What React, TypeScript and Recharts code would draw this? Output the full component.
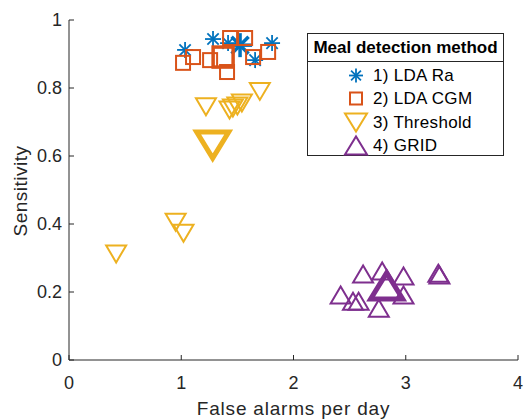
import React from 'react';
import { ScatterChart, Scatter, XAxis, YAxis, Legend } from 'recharts';

const xTicks = [0, 1, 2, 3, 4];
const yTicks = [0, 0.2, 0.4, 0.6, 0.8, 1];
const xLabel = 'False alarms per day';
const yLabel = 'Sensitivity';
const legendTitle = 'Meal detection method';
const methodNames = ['1) LDA Ra', '2) LDA CGM', '3) Threshold', '4) GRID'];

const ldaRaPoints = [
  { x: 1.034, y: 0.912 },
  { x: 1.283, y: 0.944 },
  { x: 1.417, y: 0.932 },
  { x: 1.658, y: 0.882 },
  { x: 1.809, y: 0.932 },
];
const ldaRaMean = [{ x: 1.524, y: 0.926 }];

const ldaCgmPoints = [
  { x: 1.016, y: 0.874 },
  { x: 1.105, y: 0.891 },
  { x: 1.257, y: 0.882 },
  { x: 1.435, y: 0.947 },
  { x: 1.569, y: 0.947 },
  { x: 1.408, y: 0.847 },
  { x: 1.64, y: 0.891 },
  { x: 1.774, y: 0.906 },
];
const ldaCgmMean = [{ x: 1.373, y: 0.891 }];

const thresholdPoints = [
  { x: 1.22, y: 0.745 },
  { x: 1.43, y: 0.735 },
  { x: 1.46, y: 0.741 },
  { x: 1.5, y: 0.747 },
  { x: 1.54, y: 0.756 },
  { x: 1.7, y: 0.79 },
  { x: 0.42, y: 0.312 },
  { x: 0.95, y: 0.405 },
  { x: 1.02, y: 0.373 },
];
const thresholdMean = [{ x: 1.28, y: 0.632 }];

const gridPoints = [
  { x: 2.62, y: 0.253 },
  { x: 2.79, y: 0.262 },
  { x: 2.98, y: 0.247 },
  { x: 3.29, y: 0.255 },
  { x: 3.3, y: 0.25 },
  { x: 2.98, y: 0.191 },
  { x: 2.42, y: 0.191 },
  { x: 2.53, y: 0.173 },
  { x: 2.58, y: 0.173 },
  { x: 2.76, y: 0.152 },
];
const gridMean = [{ x: 2.83, y: 0.218 }];

const BLUE = '#0072BD';
const ORANGE = '#D95319';
const YELLOW = '#EDB120';
const PURPLE = '#7E2F8E';
const AXIS = '#262626';
const FONT = '"Liberation Sans", Arial, Helvetica, sans-serif';

const asterisk = (size: number, sw: number, color: string) => (p: any) => {
  const { cx, cy } = p;
  const r = size / 2;
  const d = r * Math.SQRT1_2;
  return (
    <g stroke={color} strokeWidth={sw} strokeLinecap="butt">
      <line x1={cx - r} y1={cy} x2={cx + r} y2={cy} />
      <line x1={cx} y1={cy - r} x2={cx} y2={cy + r} />
      <line x1={cx - d} y1={cy - d} x2={cx + d} y2={cy + d} />
      <line x1={cx - d} y1={cy + d} x2={cx + d} y2={cy - d} />
    </g>
  );
};

const square = (size: number, sw: number, color: string) => (p: any) => {
  const { cx, cy } = p;
  return (
    <rect x={cx - size / 2} y={cy - size / 2} width={size} height={size} fill="none" stroke={color} strokeWidth={sw} />
  );
};

const triDown = (w: number, h: number, sw: number, color: string) => (p: any) => {
  const { cx, cy } = p;
  const pts = `${cx - w / 2},${cy - h / 2} ${cx + w / 2},${cy - h / 2} ${cx},${cy + h / 2}`;
  return <polygon points={pts} fill="none" stroke={color} strokeWidth={sw} strokeLinejoin="miter" />;
};

const triUp = (w: number, h: number, sw: number, color: string) => (p: any) => {
  const { cx, cy } = p;
  const pts = `${cx - w / 2},${cy + h / 2} ${cx + w / 2},${cy + h / 2} ${cx},${cy - h / 2}`;
  return <polygon points={pts} fill="none" stroke={color} strokeWidth={sw} strokeLinejoin="miter" />;
};

const legendMarkers = [
  asterisk(14, 1.8, BLUE),
  square(12, 2, ORANGE),
  triDown(22, 18, 2, YELLOW),
  triUp(22, 18, 2, PURPLE),
];

const renderLegend = () => (
  <div
    style={{
      width: 197,
      height: 123,
      boxSizing: 'border-box',
      border: `1px solid ${AXIS}`,
      background: '#fff',
      fontFamily: FONT,
      color: '#000',
    }}
  >
    <div
      style={{
        height: 28,
        lineHeight: '28px',
        fontWeight: 'bold',
        fontSize: 17,
        textAlign: 'center',
        borderBottom: `1px solid ${AXIS}`,
        boxSizing: 'border-box',
        whiteSpace: 'nowrap',
      }}
    >
      {legendTitle}
    </div>
    <div style={{ paddingTop: 2 }}>
      {methodNames.map((name, i) => (
        <div key={name} style={{ height: 23.3, position: 'relative' }}>
          <svg width={26} height={23} style={{ position: 'absolute', left: 35, top: 0 }}>
            {legendMarkers[i]({ cx: 13, cy: 11.5 })}
          </svg>
          <span
            style={{
              position: 'absolute',
              left: 65,
              top: 0,
              fontSize: 17,
              lineHeight: '23px',
              whiteSpace: 'nowrap',
              letterSpacing: 0.3,
            }}
          >
            {name}
          </span>
        </div>
      ))}
    </div>
  </div>
);

const tickStyle = { fontSize: 18, fill: AXIS, fontFamily: FONT };

export default function App() {
  return (
    <div style={{ position: 'absolute', left: 0, top: 0, width: 524, height: 419, background: '#fff' }}>
      <ScatterChart width={524} height={419} margin={{ top: 20, right: 6, bottom: 0, left: 0 }}>
        <XAxis
          type="number"
          dataKey="x"
          domain={[0, 4]}
          ticks={xTicks}
          height={59}
          stroke={AXIS}
          tickSize={-5}
          tickMargin={21}
          tick={tickStyle}
          allowDataOverflow
          label={{
            content: (props: any) => {
              const vb = props.viewBox;
              return (
                <text
                  x={vb.x + vb.width / 2}
                  y={415}
                  textAnchor="middle"
                  fontSize={19}
                  letterSpacing={0.8}
                  fill={AXIS}
                  fontFamily={FONT}
                >
                  {xLabel}
                </text>
              );
            },
          }}
        />
        <XAxis
          xAxisId="top"
          orientation="top"
          type="number"
          dataKey="x"
          domain={[0, 4]}
          ticks={xTicks}
          height={0}
          stroke={AXIS}
          tickSize={-5}
          tickFormatter={() => ''}
          allowDataOverflow
        />
        <YAxis
          type="number"
          dataKey="y"
          domain={[0, 1]}
          ticks={yTicks}
          width={69}
          stroke={AXIS}
          tickSize={-5}
          tickMargin={12}
          tick={tickStyle}
          allowDataOverflow
          label={{
            content: (props: any) => {
              const vb = props.viewBox;
              const cy = vb.y + vb.height / 2 + 1;
              return (
                <text
                  x={26.5}
                  y={cy}
                  transform={`rotate(-90 26.5 ${cy})`}
                  textAnchor="middle"
                  fontSize={19}
                  letterSpacing={0.5}
                  fill={AXIS}
                  fontFamily={FONT}
                >
                  {yLabel}
                </text>
              );
            },
          }}
        />
        <YAxis
          yAxisId="right"
          orientation="right"
          type="number"
          dataKey="y"
          domain={[0, 1]}
          ticks={yTicks}
          width={0}
          stroke={AXIS}
          tickSize={-5}
          tickFormatter={() => ''}
          allowDataOverflow
        />
        <Legend
          layout="horizontal"
          verticalAlign="middle"
          align="center"
          content={renderLegend}
          wrapperStyle={{ top: 33, left: 307, width: 197, height: 123 }}
        />
        <Scatter name={methodNames[0]} data={ldaRaPoints} shape={asterisk(16, 1.8, BLUE)} isAnimationActive={false} />
        <Scatter name={methodNames[0] + ' mean'} data={ldaRaMean} shape={asterisk(24, 3.5, BLUE)} isAnimationActive={false} legendType="none" />
        <Scatter name={methodNames[1]} data={ldaCgmPoints} shape={square(14, 2, ORANGE)} isAnimationActive={false} />
        <Scatter name={methodNames[1] + ' mean'} data={ldaCgmMean} shape={square(20, 3.5, ORANGE)} isAnimationActive={false} legendType="none" />
        <Scatter name={methodNames[2]} data={thresholdPoints} shape={triDown(20, 17, 2, YELLOW)} isAnimationActive={false} />
        <Scatter name={methodNames[2] + ' mean'} data={thresholdMean} shape={triDown(32, 26, 5, YELLOW)} isAnimationActive={false} legendType="none" />
        <Scatter name={methodNames[3]} data={gridPoints} shape={triUp(20, 17, 2, PURPLE)} isAnimationActive={false} />
        <Scatter name={methodNames[3] + ' mean'} data={gridMean} shape={triUp(32, 26, 5, PURPLE)} isAnimationActive={false} legendType="none" />
      </ScatterChart>
    </div>
  );
}
